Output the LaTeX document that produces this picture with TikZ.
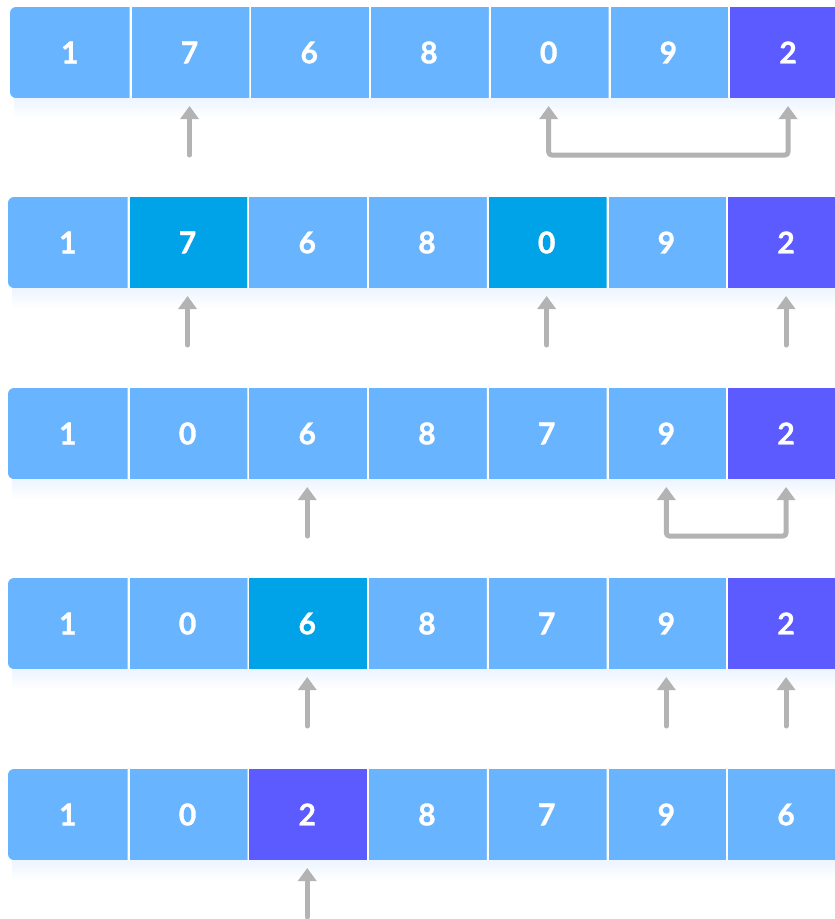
\documentclass[tikz,border=0pt]{standalone}
\usepackage{fontspec}
\newfontfamily\latofont{Lato}[BoldFeatures={FakeBold=1.2}]
\usetikzlibrary{arrows.meta,positioning,fit,backgrounds}
\definecolor{cellblue}{HTML}{69B4FF}
\definecolor{pickblue}{HTML}{00A2E8}
\definecolor{pivotblue}{HTML}{5B5BFF}
\definecolor{arrowgray}{HTML}{B3B3B3}
\definecolor{glowblue}{HTML}{EDF5FF}

\begin{document}
\begin{tikzpicture}[
    x=1pt, y=1pt,
    node distance=0pt,
    firstcell/.style={rectangle, minimum width=119.7pt, minimum height=91pt, inner sep=0pt, outer sep=0pt, text=white, font=\latofont\bfseries\fontsize{30}{36}\selectfont},
    cell/.style={firstcell, fill=cellblue, path picture={\draw[white, line width=4pt] (path picture bounding box.north west) -- (path picture bounding box.south west);}},
    pick/.style={cell, fill=pickblue},
    pivot/.style={cell, fill=pivotblue},
    rowfill/.style={fill=cellblue, rounded corners=6pt, inner sep=0pt},
    glow/.style={top color=glowblue, bottom color=white},
    pointer/.style={draw=arrowgray, line width=5pt, -{Triangle[width=18pt, length=13pt]}, shorten >=8pt, line cap=round, line join=round},
    bracket/.style={pointer, {Triangle[width=18pt, length=13pt]}-{Triangle[width=18pt, length=13pt]}, shorten <=8pt, rounded corners=3pt},
]
    \useasboundingbox (0,0) rectangle (835,-919);
    \clip (0,0) rectangle (835,-919);

    % row 1
    \node[firstcell] (r1c1) at (69.85,-52.5) {1};
    \node[cell, right=of r1c1] (r1c2) {7};
    \node[cell, right=of r1c2] (r1c3) {6};
    \node[cell, right=of r1c3] (r1c4) {8};
    \node[cell, right=of r1c4] (r1c5) {0};
    \node[cell, right=of r1c5] (r1c6) {9};
    \node[pivot, right=of r1c6] (r1c7) {2};

    % row 2
    \node[firstcell] (r2c1) at (67.85,-242.5) {1};
    \node[pick, right=of r2c1] (r2c2) {7};
    \node[cell, right=of r2c2] (r2c3) {6};
    \node[cell, right=of r2c3] (r2c4) {8};
    \node[pick, right=of r2c4] (r2c5) {0};
    \node[cell, right=of r2c5] (r2c6) {9};
    \node[pivot, right=of r2c6] (r2c7) {2};

    % row 3
    \node[firstcell] (r3c1) at (67.85,-433.5) {1};
    \node[cell, right=of r3c1] (r3c2) {0};
    \node[cell, right=of r3c2] (r3c3) {6};
    \node[cell, right=of r3c3] (r3c4) {8};
    \node[cell, right=of r3c4] (r3c5) {7};
    \node[cell, right=of r3c5] (r3c6) {9};
    \node[pivot, right=of r3c6] (r3c7) {2};

    % row 4
    \node[firstcell] (r4c1) at (67.85,-623.5) {1};
    \node[cell, right=of r4c1] (r4c2) {0};
    \node[pick, right=of r4c2] (r4c3) {6};
    \node[cell, right=of r4c3] (r4c4) {8};
    \node[cell, right=of r4c4] (r4c5) {7};
    \node[cell, right=of r4c5] (r4c6) {9};
    \node[pivot, right=of r4c6] (r4c7) {2};

    % row 5
    \node[firstcell] (r5c1) at (67.85,-814.5) {1};
    \node[cell, right=of r5c1] (r5c2) {0};
    \node[pivot, right=of r5c2] (r5c3) {2};
    \node[cell, right=of r5c3] (r5c4) {8};
    \node[cell, right=of r5c4] (r5c5) {7};
    \node[cell, right=of r5c5] (r5c6) {9};
    \node[cell, right=of r5c6] (r5c7) {6};

    \begin{scope}[on background layer]
        \node[rowfill, fit=(r1c1)(r1c7)] (row1) {};
        \node[rowfill, fit=(r2c1)(r2c7)] (row2) {};
        \node[rowfill, fit=(r3c1)(r3c7)] (row3) {};
        \node[rowfill, fit=(r4c1)(r4c7)] (row4) {};
        \node[rowfill, fit=(r5c1)(r5c7)] (row5) {};
        \fill[glow] ([xshift=4pt]row1.south west) rectangle ([yshift=-20pt]row1.south east);
        \fill[glow] ([xshift=4pt]row2.south west) rectangle ([yshift=-20pt]row2.south east);
        \fill[glow] ([xshift=4pt]row3.south west) rectangle ([yshift=-20pt]row3.south east);
        \fill[glow] ([xshift=4pt]row4.south west) rectangle ([yshift=-20pt]row4.south east);
        \fill[glow] ([xshift=4pt]row5.south west) rectangle ([yshift=-20pt]row5.south east);
    \end{scope}

    % pointers
    \draw[pointer] ([yshift=-57pt]r1c2.south) -- (r1c2.south);
    \draw[bracket] (r1c5.south) -- ++(0,-57) -| (r1c7.south);

    \draw[pointer] ([yshift=-57pt]r2c2.south) -- (r2c2.south);
    \draw[pointer] ([yshift=-57pt]r2c5.south) -- (r2c5.south);
    \draw[pointer] ([yshift=-57pt]r2c7.south) -- (r2c7.south);

    \draw[pointer] ([yshift=-57pt]r3c3.south) -- (r3c3.south);
    \draw[bracket] (r3c6.south) -- ++(0,-57) -| (r3c7.south);

    \draw[pointer] ([yshift=-57pt]r4c3.south) -- (r4c3.south);
    \draw[pointer] ([yshift=-57pt]r4c6.south) -- (r4c6.south);
    \draw[pointer] ([yshift=-57pt]r4c7.south) -- (r4c7.south);

    \draw[pointer] ([yshift=-57pt]r5c3.south) -- (r5c3.south);
\end{tikzpicture}
\end{document}
